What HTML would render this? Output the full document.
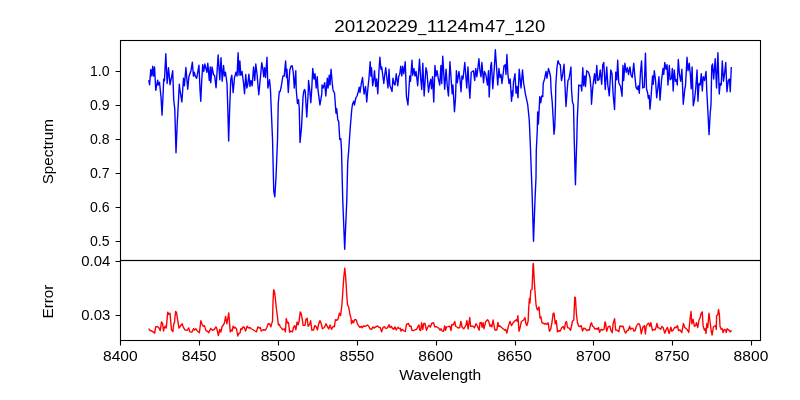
<!DOCTYPE html>
<html><head><meta charset="utf-8"><style>
html,body{margin:0;padding:0;background:#fff;}
svg{display:block;will-change:transform;font-family:"Liberation Sans",sans-serif;}
</style></head><body>
<svg width="800" height="400" viewBox="0 0 800 400">
<rect width="800" height="400" fill="#fff"/>
<g fill="none" stroke-linejoin="round" stroke-linecap="butt">
<path d="M148.70 80.20 L149.60 84.70 L150.80 69.40 L151.85 76.00 L152.75 66.25 L153.65 76.00 L154.55 67.00 L155.75 90.25 L157.70 80.20 L158.30 85.00 L159.50 82.30 L161.00 97.00 L162.05 115.15 L162.95 97.00 L163.70 79.30 L164.45 80.80 L165.80 53.80 L167.15 83.50 L168.50 67.75 L170.00 84.70 L171.50 77.50 L172.70 70.75 L173.75 100.00 L174.80 109.45 L176.00 152.80 L177.20 124.00 L178.25 104.95 L179.30 84.25 L179.90 89.50 L181.85 101.95 L182.75 89.50 L183.50 78.25 L184.40 85.75 L185.90 67.45 L187.70 89.20 L188.90 76.75 L191.00 70.75 L192.35 62.20 L193.40 76.00 L194.30 72.25 L195.20 76.00 L196.70 78.25 L198.95 65.20 L200.00 89.50 L200.75 101.20 L201.50 85.00 L202.70 64.75 L203.75 71.50 L204.80 64.00 L206.90 72.25 L207.80 63.25 L209.30 80.50 L210.20 67.00 L210.80 82.75 L212.00 67.00 L213.50 74.50 L214.70 76.00 L216.05 87.70 L218.15 55.00 L219.80 79.75 L221.00 57.70 L222.20 81.25 L223.55 65.50 L224.45 76.00 L225.50 72.25 L227.00 83.50 L227.90 112.00 L228.65 140.95 L229.55 112.00 L230.75 79.75 L231.80 75.25 L233.15 92.65 L234.50 77.50 L236.00 72.25 L237.05 76.00 L238.10 52.75 L239.00 75.25 L239.90 61.00 L240.80 75.25 L242.00 71.50 L243.50 82.75 L244.55 93.70 L245.75 74.50 L246.80 88.00 L247.70 85.00 L248.90 74.20 L249.95 86.50 L251.00 80.50 L252.20 85.75 L253.55 67.00 L254.75 80.50 L255.80 64.00 L257.00 73.75 L258.80 94.75 L261.75 62.80 L262.80 68.50 L263.70 76.75 L264.60 67.75 L265.50 77.50 L267.00 57.25 L267.90 88.00 L269.55 79.75 L270.45 89.50 L271.50 115.00 L272.55 140.05 L273.75 191.05 L274.80 196.75 L276.00 177.55 L277.50 140.05 L278.25 103.45 L279.30 91.45 L280.20 91.45 L281.25 86.50 L282.90 76.00 L284.25 76.00 L285.60 61.00 L286.50 77.50 L286.95 69.25 L288.30 92.50 L289.80 70.00 L291.00 66.25 L292.20 65.80 L293.25 72.25 L294.30 88.00 L295.80 70.75 L296.25 89.95 L297.45 103.45 L298.50 99.70 L299.25 107.95 L300.00 142.45 L301.50 127.45 L303.00 97.45 L303.75 91.45 L304.50 89.50 L305.25 91.45 L306.75 116.95 L308.25 91.45 L308.55 80.50 L309.75 89.95 L310.80 102.70 L311.70 89.95 L312.75 68.50 L313.95 79.00 L315.00 73.75 L316.20 88.00 L317.25 76.75 L318.00 89.95 L319.95 104.95 L321.75 94.45 L322.05 85.00 L323.25 88.00 L324.75 82.75 L325.80 95.95 L327.30 78.25 L328.05 88.00 L329.25 75.25 L330.00 85.00 L331.05 69.25 L332.25 83.50 L333.00 89.95 L334.50 92.95 L336.00 113.20 L336.75 108.70 L337.80 119.95 L338.70 121.45 L339.75 139.45 L340.80 138.70 L341.50 150.00 L342.75 200.00 L344.70 249.30 L346.80 200.00 L347.70 162.50 L348.75 150.00 L350.25 127.50 L351.75 109.50 L352.50 104.25 L353.70 101.25 L354.45 105.00 L355.80 98.00 L357.00 96.00 L358.20 92.00 L359.25 87.25 L360.00 92.50 L361.20 84.25 L362.55 77.50 L364.05 94.00 L365.55 86.50 L366.75 102.00 L367.80 89.50 L369.00 77.50 L370.20 61.75 L370.90 76.00 L371.50 67.75 L372.70 85.75 L373.75 79.00 L374.50 70.75 L375.70 86.50 L376.60 79.00 L377.80 93.70 L379.00 70.00 L379.90 57.25 L380.95 69.25 L381.70 67.00 L383.80 83.50 L384.70 75.25 L385.75 67.75 L386.80 77.50 L388.00 88.00 L389.05 69.25 L389.80 85.00 L392.05 91.45 L392.95 78.25 L394.00 83.50 L395.05 85.00 L396.25 73.75 L397.75 85.75 L398.80 76.00 L399.70 74.50 L400.75 66.25 L401.80 76.00 L402.70 66.25 L403.75 73.75 L405.25 61.75 L406.45 96.70 L407.95 104.95 L409.75 76.00 L410.50 81.25 L412.00 60.25 L412.75 75.25 L413.95 68.50 L415.00 76.00 L416.05 71.50 L417.70 85.75 L419.50 59.20 L420.70 79.00 L421.75 89.50 L422.80 63.25 L424.15 95.95 L425.95 67.75 L427.00 72.25 L428.50 92.20 L429.70 83.50 L430.75 79.30 L431.50 88.75 L432.55 76.75 L433.75 101.95 L434.95 65.50 L436.00 76.00 L437.05 70.75 L438.25 78.25 L439.75 85.00 L440.95 65.50 L441.70 83.50 L442.75 56.20 L444.70 89.20 L446.05 69.25 L447.25 85.75 L448.45 95.95 L449.95 61.75 L451.00 77.50 L452.20 93.70 L452.95 85.00 L454.45 111.70 L455.50 98.50 L456.40 70.75 L457.30 82.75 L458.95 71.50 L460.00 79.75 L461.05 91.75 L461.95 76.00 L463.00 79.00 L464.80 62.50 L466.75 88.00 L467.95 67.00 L469.00 85.75 L469.90 98.20 L471.25 72.25 L473.50 70.75 L474.70 80.50 L475.75 68.50 L476.80 76.75 L477.70 70.00 L478.90 58.75 L479.95 70.75 L481.00 76.75 L481.90 62.50 L483.55 82.75 L484.45 71.50 L485.80 74.50 L487.45 85.00 L488.50 70.75 L489.20 97.00 L490.70 66.25 L491.45 62.50 L492.80 88.75 L494.30 68.50 L495.35 49.75 L496.55 67.00 L497.75 85.00 L498.95 68.50 L500.00 77.50 L501.05 74.50 L501.95 83.50 L503.00 75.25 L504.05 65.50 L505.25 64.75 L506.00 74.50 L506.90 54.55 L507.95 74.50 L509.00 83.50 L510.20 79.00 L511.55 101.20 L512.30 91.00 L512.75 95.95 L513.50 82.00 L515.00 73.75 L516.05 93.25 L516.95 86.50 L518.00 97.75 L519.20 69.25 L521.00 88.00 L522.50 70.00 L523.70 83.50 L524.75 89.95 L525.50 94.45 L527.75 104.95 L529.25 119.95 L530.15 140.05 L532.00 190.00 L533.50 241.30 L535.00 200.00 L536.00 177.50 L536.30 150.00 L537.30 130.00 L537.65 112.00 L538.40 124.00 L539.45 103.45 L539.75 96.70 L540.80 102.70 L541.70 95.95 L542.75 96.70 L543.20 83.50 L544.55 79.00 L546.05 71.50 L546.95 78.25 L548.45 68.50 L549.50 72.25 L550.55 76.75 L551.15 91.00 L552.20 101.95 L553.25 119.95 L554.00 134.20 L554.75 127.45 L555.50 104.95 L555.80 85.00 L557.00 67.00 L558.05 60.70 L559.25 64.00 L560.30 64.75 L561.50 80.50 L562.55 75.25 L564.05 64.30 L564.95 85.00 L566.00 106.45 L567.20 89.95 L567.95 80.50 L569.00 79.00 L570.95 67.00 L571.55 89.95 L572.45 101.95 L573.50 104.95 L574.25 140.05 L575.00 170.05 L575.45 184.75 L576.05 162.55 L576.80 140.05 L577.25 119.95 L578.30 97.45 L578.75 85.00 L579.95 85.75 L581.00 85.00 L581.75 91.00 L582.80 67.75 L583.70 85.75 L584.75 76.00 L585.50 86.50 L586.70 70.75 L588.50 72.25 L590.00 77.50 L591.05 89.50 L591.50 104.20 L592.70 88.00 L594.50 73.75 L595.55 83.50 L596.75 65.50 L597.80 80.50 L599.00 79.75 L600.20 70.00 L601.70 84.25 L602.75 64.75 L603.80 62.50 L605.25 89.50 L606.75 67.00 L607.80 85.00 L609.30 95.80 L610.80 70.00 L612.00 73.75 L613.20 95.20 L614.55 109.45 L615.75 72.25 L616.80 79.75 L617.70 60.25 L618.75 82.75 L620.55 86.50 L622.05 96.25 L622.95 65.50 L623.70 80.50 L624.90 63.25 L626.25 72.25 L627.45 67.75 L628.50 74.50 L630.00 67.00 L631.05 75.25 L632.25 77.50 L633.75 63.25 L634.80 75.25 L636.00 87.25 L637.50 89.50 L638.25 85.75 L639.30 93.25 L640.50 72.25 L641.55 61.00 L642.75 88.00 L644.25 87.25 L645.45 53.20 L646.50 88.75 L647.70 93.25 L648.30 98.20 L649.20 95.50 L649.95 109.15 L651.00 97.75 L652.50 76.00 L653.25 84.25 L654.30 70.75 L655.50 79.75 L656.70 97.75 L657.75 88.75 L658.95 76.75 L660.00 100.15 L661.50 80.50 L663.00 68.50 L663.75 74.50 L664.80 62.50 L666.00 69.25 L667.05 64.75 L667.95 85.00 L669.30 65.50 L670.20 79.75 L671.55 78.25 L672.30 68.50 L673.20 91.00 L674.25 70.00 L675.45 81.25 L676.50 79.75 L677.25 85.00 L678.30 59.50 L679.50 74.50 L680.70 81.25 L681.90 69.25 L683.25 104.20 L684.75 89.50 L685.50 85.75 L687.00 57.25 L688.05 70.75 L689.25 63.25 L690.45 76.00 L691.20 88.75 L692.10 67.00 L693.30 105.70 L694.50 99.70 L695.70 88.75 L697.05 70.00 L697.95 101.20 L699.00 83.50 L700.20 85.00 L701.25 73.75 L702.30 91.00 L703.20 76.75 L704.55 80.50 L706.05 71.50 L706.80 91.75 L707.40 101.95 L709.05 134.65 L710.25 112.45 L711.00 104.95 L711.75 66.25 L712.50 64.00 L713.70 79.00 L715.20 58.75 L716.55 88.00 L717.90 52.75 L719.25 94.00 L720.20 83.50 L721.25 85.00 L722.30 61.00 L723.50 81.25 L724.55 73.75 L725.75 62.50 L726.95 91.75 L728.30 80.50 L729.50 79.00 L730.25 91.75 L731.30 67.00" stroke="#0000ff" stroke-width="1.39"/>
<path d="M148.75 328.50 L149.75 330.25 L151.88 331.00 L153.12 331.88 L154.75 333.12 L155.62 326.88 L157.50 326.50 L158.75 327.50 L160.25 330.62 L161.50 321.88 L162.50 323.12 L163.50 331.00 L164.38 327.50 L165.25 326.25 L166.25 328.12 L167.75 312.12 L168.75 314.38 L170.00 313.12 L171.50 330.00 L172.88 331.62 L173.75 323.75 L174.38 323.12 L175.62 311.50 L176.50 312.50 L177.75 320.62 L179.00 328.12 L180.25 326.25 L182.25 323.75 L183.12 326.88 L185.00 330.00 L187.25 330.25 L188.75 327.88 L189.75 331.88 L191.88 332.12 L193.50 328.75 L194.62 330.00 L195.88 328.75 L197.25 331.00 L199.38 332.75 L200.88 320.62 L201.88 323.75 L203.12 326.25 L204.38 325.62 L206.00 330.62 L207.50 331.25 L208.75 332.75 L210.62 328.50 L212.50 330.25 L214.38 329.38 L216.00 326.88 L216.88 328.75 L218.38 335.62 L219.75 329.38 L220.88 332.12 L222.12 326.25 L223.12 325.38 L224.38 323.12 L225.62 316.50 L226.88 323.75 L228.75 312.88 L230.25 331.88 L231.25 330.00 L232.12 331.00 L233.12 326.25 L234.38 328.12 L235.00 327.25 L236.50 328.75 L237.75 336.00 L238.75 333.50 L240.00 333.12 L240.88 328.75 L241.88 329.38 L242.75 327.25 L244.00 326.88 L245.62 331.00 L247.12 326.25 L248.75 328.12 L250.00 327.50 L251.25 328.75 L253.12 329.75 L255.00 331.00 L256.50 331.88 L257.88 326.88 L259.38 328.12 L260.25 327.50 L261.25 331.00 L263.12 329.75 L265.62 330.00 L266.88 327.50 L268.12 323.75 L269.75 324.00 L270.88 326.88 L271.88 323.12 L272.50 321.25 L273.00 302.50 L273.62 289.75 L274.50 291.88 L275.25 297.50 L276.25 307.50 L276.88 312.50 L277.50 316.88 L278.38 325.00 L279.38 324.38 L280.25 326.88 L281.50 328.12 L282.75 329.75 L284.38 328.75 L285.38 331.88 L286.25 318.50 L287.50 323.12 L288.50 322.50 L289.62 332.25 L290.88 331.00 L292.50 331.88 L293.50 327.50 L294.75 325.62 L295.88 329.75 L297.12 321.88 L298.12 324.75 L299.00 321.88 L300.25 311.88 L301.25 313.75 L302.50 320.62 L303.12 325.38 L305.00 325.38 L305.88 319.38 L307.12 318.12 L308.12 326.25 L309.62 324.38 L310.62 320.62 L311.88 330.25 L313.50 330.00 L314.75 325.62 L316.25 326.88 L317.50 330.00 L318.50 324.38 L320.00 320.62 L321.25 323.75 L322.50 328.75 L324.38 327.50 L326.00 323.75 L327.50 326.88 L328.75 329.00 L330.00 325.00 L331.50 329.38 L333.12 326.25 L334.38 326.88 L335.38 319.75 L336.88 320.25 L338.12 318.75 L339.38 313.12 L340.62 315.62 L341.88 305.00 L342.25 300.00 L343.00 288.75 L343.75 277.50 L344.75 268.25 L345.38 273.75 L346.00 282.00 L346.75 295.00 L347.50 304.50 L348.75 307.50 L349.00 308.75 L350.00 315.00 L351.00 318.12 L351.50 323.75 L352.50 320.62 L353.50 322.75 L354.75 319.38 L356.25 320.00 L357.50 323.75 L358.50 325.62 L360.00 327.50 L361.25 326.25 L362.25 327.88 L363.50 326.00 L365.62 326.25 L367.50 325.00 L368.75 326.25 L370.00 328.75 L371.50 329.38 L372.88 326.88 L374.00 328.12 L375.62 326.88 L377.50 326.00 L379.00 327.25 L380.25 327.50 L381.62 331.88 L383.12 327.25 L384.38 326.62 L385.62 328.38 L387.50 327.88 L389.00 324.75 L390.00 327.50 L391.25 326.25 L392.12 327.88 L393.75 329.38 L395.00 326.88 L396.25 330.00 L397.88 327.25 L399.38 328.75 L400.38 328.12 L401.00 331.00 L402.25 329.38 L403.75 330.62 L405.38 331.50 L406.50 324.38 L408.50 323.50 L409.62 326.25 L411.00 326.00 L411.88 330.25 L413.50 330.62 L415.00 329.75 L416.62 329.38 L418.12 326.25 L419.00 325.00 L419.75 330.00 L420.62 330.62 L421.62 322.75 L422.75 329.38 L423.75 323.50 L425.00 323.50 L426.50 330.25 L427.75 327.25 L429.00 325.25 L430.25 327.25 L431.88 323.12 L433.50 322.75 L434.75 326.88 L436.25 326.62 L437.50 327.50 L438.75 328.12 L440.00 330.25 L441.00 328.75 L442.25 331.00 L443.50 331.25 L444.75 326.00 L445.62 330.25 L446.50 326.88 L448.12 326.62 L450.00 326.25 L451.00 330.62 L451.88 324.38 L453.12 325.00 L454.75 321.50 L455.62 326.25 L457.25 327.25 L458.50 328.12 L459.75 327.50 L460.88 321.50 L462.12 327.25 L463.75 328.75 L465.00 326.88 L466.00 325.00 L466.88 320.62 L468.12 329.00 L469.75 317.50 L470.62 326.25 L472.25 326.25 L473.50 326.50 L474.38 327.88 L476.00 323.75 L477.50 326.25 L479.12 330.25 L480.00 322.75 L481.25 322.50 L482.12 327.25 L483.12 322.75 L484.00 328.75 L485.62 321.88 L487.50 319.75 L488.75 321.25 L490.00 326.25 L491.00 325.00 L491.88 326.88 L493.12 320.00 L494.38 327.50 L495.00 330.00 L496.88 330.00 L497.88 322.50 L498.75 326.25 L500.00 326.00 L501.50 327.50 L503.12 328.75 L504.75 330.25 L505.62 329.38 L506.88 333.12 L508.50 325.62 L510.00 321.50 L511.50 325.62 L513.12 322.75 L514.75 321.00 L516.25 319.75 L517.12 321.25 L517.88 315.62 L519.00 331.25 L520.00 328.12 L521.25 321.88 L522.50 320.62 L523.75 320.00 L525.00 317.50 L525.88 323.75 L526.88 325.62 L528.12 321.25 L528.75 307.50 L529.38 298.50 L530.00 303.00 L530.75 290.25 L532.00 289.50 L532.62 276.25 L533.00 265.00 L533.25 263.50 L533.50 265.00 L534.00 276.25 L534.75 288.00 L535.38 296.25 L536.00 304.50 L536.50 307.50 L537.50 310.00 L539.00 306.88 L540.00 318.12 L541.00 316.88 L541.88 322.75 L543.12 323.12 L544.38 324.00 L545.62 323.50 L546.88 324.38 L548.12 322.75 L549.38 331.25 L550.62 329.38 L551.88 323.12 L553.12 313.50 L554.00 313.12 L555.25 323.75 L556.25 320.62 L557.50 331.88 L559.00 330.62 L560.00 331.25 L561.88 327.50 L563.12 326.50 L564.38 329.38 L565.62 322.50 L566.50 321.50 L567.50 327.50 L569.00 328.12 L570.62 330.25 L572.50 321.25 L573.75 320.00 L574.75 297.25 L575.38 297.50 L576.50 315.00 L577.50 322.75 L578.75 326.25 L580.00 326.62 L581.25 325.62 L582.50 331.00 L583.75 328.12 L585.25 328.75 L586.88 330.62 L588.12 329.75 L589.38 330.00 L590.62 324.38 L591.50 322.75 L592.50 326.25 L593.75 326.88 L594.75 329.00 L596.50 328.50 L597.50 329.38 L598.50 327.50 L599.62 332.25 L601.00 329.38 L602.50 330.00 L604.00 329.38 L605.00 321.88 L605.62 323.12 L606.62 331.25 L608.12 326.88 L609.75 326.00 L611.00 330.62 L612.25 332.75 L613.12 323.75 L614.62 318.75 L615.62 330.00 L617.25 330.25 L618.75 331.88 L620.00 326.00 L621.88 326.50 L623.12 326.25 L624.38 330.62 L625.62 333.12 L627.12 330.62 L628.50 330.00 L629.62 326.25 L630.62 329.38 L631.88 328.12 L633.12 328.75 L634.00 331.25 L635.25 330.25 L636.25 326.50 L637.75 324.00 L639.00 323.75 L640.00 325.62 L641.25 333.75 L642.75 327.50 L644.38 325.62 L645.38 334.00 L646.25 326.25 L647.50 324.00 L648.75 323.12 L649.75 326.25 L650.88 322.75 L652.50 330.62 L653.75 329.38 L655.00 330.00 L656.00 327.50 L656.88 323.50 L657.88 327.50 L659.38 328.12 L660.62 329.38 L661.88 326.50 L663.12 327.50 L664.75 333.12 L666.25 329.38 L667.50 327.50 L669.12 333.50 L670.88 327.25 L671.88 331.25 L673.12 330.25 L674.75 327.25 L676.25 327.50 L677.50 325.62 L678.50 330.62 L680.00 330.00 L681.88 332.50 L683.38 323.50 L684.75 327.50 L686.25 328.75 L687.50 330.00 L688.75 332.50 L690.00 319.38 L691.00 311.50 L691.88 323.75 L693.12 319.38 L694.38 326.25 L695.62 325.62 L696.50 322.75 L697.75 327.50 L699.00 320.00 L700.00 318.12 L701.00 313.75 L702.25 311.88 L703.12 326.25 L704.38 330.00 L705.25 328.75 L706.00 333.50 L706.88 323.50 L707.75 327.50 L709.00 313.12 L710.00 321.25 L711.25 331.25 L712.12 335.00 L713.38 326.88 L714.38 326.25 L715.62 325.62 L716.25 329.38 L716.62 315.62 L717.75 315.00 L718.50 309.38 L719.38 314.38 L720.00 326.25 L721.25 329.38 L722.25 328.75 L723.12 332.50 L724.38 329.38 L725.62 330.00 L726.25 332.50 L727.12 328.75 L728.50 329.75 L730.25 331.88 L731.50 330.25" stroke="#ff0000" stroke-width="1.39"/>
</g>
<path d="M120.5 340.5v4.9M199.5 340.5v4.9M278.5 340.5v4.9M357.5 340.5v4.9M436.5 340.5v4.9M515.5 340.5v4.9M593.5 340.5v4.9M672.5 340.5v4.9M751.5 340.5v4.9M120.5 71.5h-4.9M120.5 105.5h-4.9M120.5 139.5h-4.9M120.5 173.5h-4.9M120.5 207.5h-4.9M120.5 241.5h-4.9M120.5 261.5h-4.9M120.5 315.5h-4.9" stroke="#000" stroke-width="1.1" fill="none"/>
<g fill="#000"><text x="103.00" y="360.70" font-size="14.30" text-anchor="start" textLength="34.70" lengthAdjust="spacingAndGlyphs">8400</text>
<text x="181.83" y="360.70" font-size="14.30" text-anchor="start" textLength="34.70" lengthAdjust="spacingAndGlyphs">8450</text>
<text x="260.66" y="360.70" font-size="14.30" text-anchor="start" textLength="34.70" lengthAdjust="spacingAndGlyphs">8500</text>
<text x="339.49" y="360.70" font-size="14.30" text-anchor="start" textLength="34.70" lengthAdjust="spacingAndGlyphs">8550</text>
<text x="418.32" y="360.70" font-size="14.30" text-anchor="start" textLength="34.70" lengthAdjust="spacingAndGlyphs">8600</text>
<text x="497.15" y="360.70" font-size="14.30" text-anchor="start" textLength="34.70" lengthAdjust="spacingAndGlyphs">8650</text>
<text x="575.98" y="360.70" font-size="14.30" text-anchor="start" textLength="34.70" lengthAdjust="spacingAndGlyphs">8700</text>
<text x="654.81" y="360.70" font-size="14.30" text-anchor="start" textLength="34.70" lengthAdjust="spacingAndGlyphs">8750</text>
<text x="733.64" y="360.70" font-size="14.30" text-anchor="start" textLength="34.70" lengthAdjust="spacingAndGlyphs">8800</text>
<text x="90.00" y="76.30" font-size="14.30" text-anchor="start" textLength="19.60" lengthAdjust="spacingAndGlyphs">1.0</text>
<text x="90.00" y="110.30" font-size="14.30" text-anchor="start" textLength="19.60" lengthAdjust="spacingAndGlyphs">0.9</text>
<text x="90.00" y="144.30" font-size="14.30" text-anchor="start" textLength="19.60" lengthAdjust="spacingAndGlyphs">0.8</text>
<text x="90.00" y="178.30" font-size="14.30" text-anchor="start" textLength="19.60" lengthAdjust="spacingAndGlyphs">0.7</text>
<text x="90.00" y="212.30" font-size="14.30" text-anchor="start" textLength="19.60" lengthAdjust="spacingAndGlyphs">0.6</text>
<text x="90.00" y="246.30" font-size="14.30" text-anchor="start" textLength="19.60" lengthAdjust="spacingAndGlyphs">0.5</text>
<text x="81.30" y="266.30" font-size="14.30" text-anchor="start" textLength="29.00" lengthAdjust="spacingAndGlyphs">0.04</text>
<text x="81.30" y="320.30" font-size="14.30" text-anchor="start" textLength="29.00" lengthAdjust="spacingAndGlyphs">0.03</text>
<text x="334.20" y="31.90" font-size="17.20" text-anchor="start" textLength="83.64" lengthAdjust="spacingAndGlyphs">20120229</text>
<text x="417.94" y="31.90" font-size="17.20" text-anchor="start" textLength="8.27" lengthAdjust="spacingAndGlyphs">_</text>
<text x="426.71" y="31.90" font-size="17.20" text-anchor="start" textLength="41.52" lengthAdjust="spacingAndGlyphs">1124</text>
<text x="468.83" y="31.90" font-size="17.20" text-anchor="start" textLength="15.53" lengthAdjust="spacingAndGlyphs">m</text>
<text x="484.96" y="31.90" font-size="17.20" text-anchor="start" textLength="20.46" lengthAdjust="spacingAndGlyphs">47</text>
<text x="505.52" y="31.90" font-size="17.20" text-anchor="start" textLength="8.27" lengthAdjust="spacingAndGlyphs">_</text>
<text x="514.29" y="31.90" font-size="17.20" text-anchor="start" textLength="30.99" lengthAdjust="spacingAndGlyphs">120</text>
<text x="399.20" y="379.70" font-size="14.30" text-anchor="start" textLength="82.00" lengthAdjust="spacingAndGlyphs">Wavelength</text>
<text transform="translate(53.3,184.3) rotate(-90)" font-size="14.3" textLength="65.2" lengthAdjust="spacingAndGlyphs">Spectrum</text>
<text transform="translate(53.3,318.4) rotate(-90)" font-size="14.3" textLength="33.8" lengthAdjust="spacingAndGlyphs">Error</text></g>
<g fill="none" stroke="#000" stroke-width="1.1">
<rect x="120.5" y="40.5" width="640" height="220"/>
<rect x="120.5" y="260.5" width="640" height="80"/>
</g>
</svg>
</body></html>
